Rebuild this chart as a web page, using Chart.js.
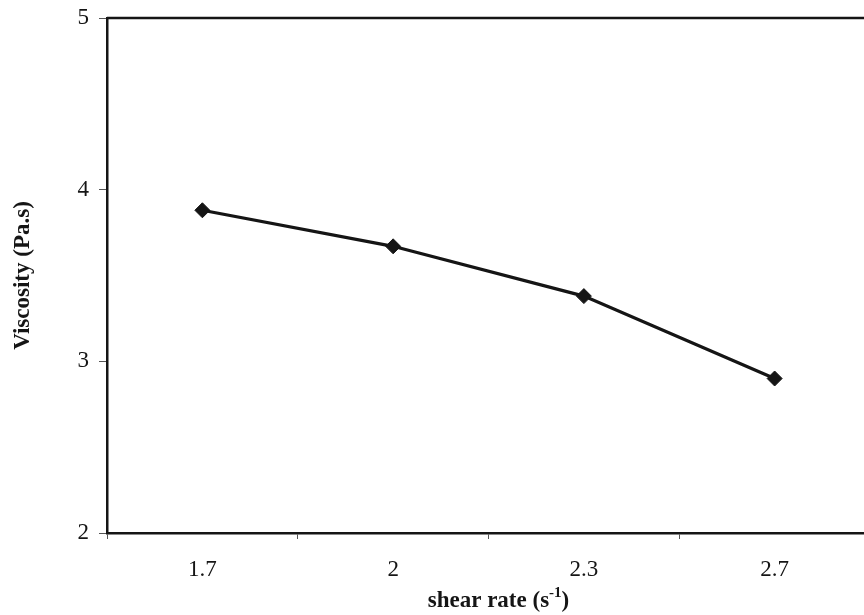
<!DOCTYPE html>
<html>
<head>
<meta charset="utf-8">
<script src="https://cdn.jsdelivr.net/npm/chart.js@4"></script>
<style>
	html, body { margin: 0; padding: 0; background: #fff; overflow: hidden; }
	#wrap { width: 880px; height: 615px; }
</style>
</head>
<body>
<div id="wrap"><canvas id="lineChart"></canvas></div>
<script>
// values
const shearRates = ['1.7', '2', '2.3', '2.7'];
const viscosity = [3.88, 3.67, 3.38, 2.90];
const yTicks = [2, 3, 4, 5];
const xTitle = ['shear rate (s', '-1', ')'];

const ink = '#151515';
const serif = '"Liberation Serif", "Times New Roman", serif';

// the frame on top and right side of the plot, plus the x title with its superscript
const frame = {
	id: 'frame',
	afterDraw(chart) {
		const {ctx, chartArea: a} = chart;
		ctx.save();
		ctx.strokeStyle = ink;
		ctx.lineWidth = 2.5;
		ctx.beginPath();
		ctx.moveTo(a.left, a.top);
		ctx.lineTo(a.right, a.top);
		ctx.lineTo(a.right, a.bottom);
		ctx.stroke();

		const big = 'bold 23px ' + serif;
		const small = 'bold 15px ' + serif;
		ctx.fillStyle = ink;
		ctx.textBaseline = 'alphabetic';
		ctx.textAlign = 'left';
		ctx.font = big;
		const w1 = ctx.measureText(xTitle[0]).width;
		const w3 = ctx.measureText(xTitle[2]).width;
		ctx.font = small;
		const w2 = ctx.measureText(xTitle[1]).width;
		const total = w1 + w2 + w3;
		let x = (a.left + a.right) / 2 + 10 - total / 2;
		const base = 607;
		ctx.font = big;
		ctx.fillText(xTitle[0], x, base);
		x += w1;
		ctx.font = small;
		ctx.fillText(xTitle[1], x, base - 10);
		x += w2;
		ctx.font = big;
		ctx.fillText(xTitle[2], x, base);
		ctx.restore();
	}
};

new Chart(document.getElementById('lineChart'), {
	type: 'line',
	data: {
		labels: shearRates,
		datasets: [
			{
				data: viscosity,
				fill: false,
				borderColor: ink,
				borderWidth: 3.2,
				backgroundColor: ink,
				pointStyle: 'rectRot',
				pointRadius: 7.5,
				pointBorderWidth: 1,
				tension: 0
			}
		]
	},
	options: {
		responsive: true,
		maintainAspectRatio: false,
		animation: false,
		layout: {
			padding: { top: 18, right: 10, bottom: 0, left: 0 }
		},
		plugins: {
			legend: { display: false },
			tooltip: { enabled: false }
		},
		scales: {
			x: {
				offset: true,
				afterFit(scale) { scale.height = 82; },
				grid: {
					offset: true,
					drawOnChartArea: false,
					drawTicks: true,
					tickLength: 6,
					color: '#555',
					lineWidth: 1
				},
				border: { color: ink, width: 2.5 },
				ticks: {
					color: ink,
					padding: 17,
					font: { family: serif, size: 23 }
				}
			},
			y: {
				min: 2,
				max: 5,
				afterFit(scale) {
					scale.width = 107;
					scale.paddingTop = 0;
					scale.paddingBottom = 0;
				},
				afterBuildTicks(scale) {
					scale.ticks = yTicks.map(v => ({ value: v }));
				},
				grid: {
					drawOnChartArea: false,
					drawTicks: true,
					tickLength: 8,
					color: '#555',
					lineWidth: 1
				},
				border: { color: ink, width: 2.5 },
				ticks: {
					color: ink,
					padding: 10,
					font: { family: serif, size: 23 }
				},
				title: {
					display: true,
					text: 'Viscosity (Pa.s)',
					color: ink,
					padding: { top: 9, bottom: 0 },
					font: { family: serif, size: 23, weight: 'bold' }
				}
			}
		}
	},
	plugins: [frame]
});
</script>
</body>
</html>
